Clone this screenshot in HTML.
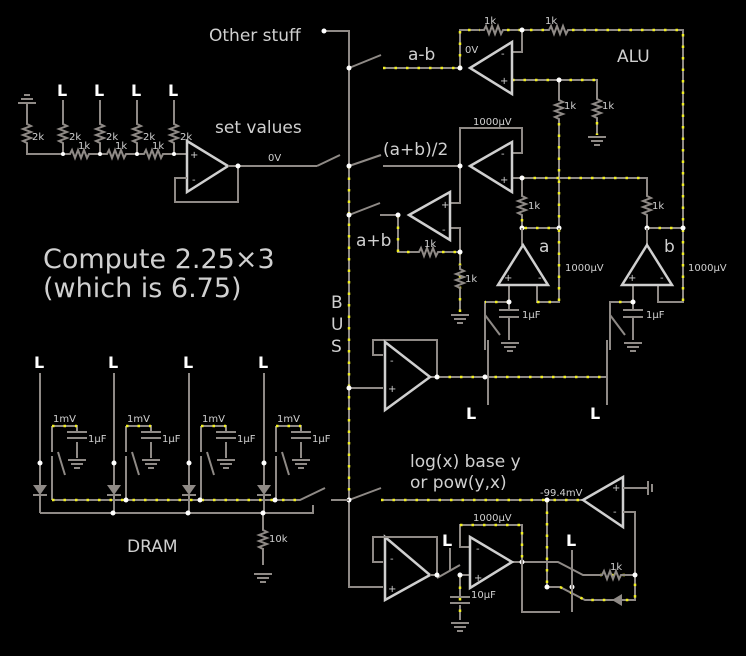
<!DOCTYPE html>
<html><head><meta charset="utf-8"><style>
html,body{margin:0;padding:0;background:#000;}
svg{display:block}
text{font-family:"DejaVu Sans","Liberation Sans",sans-serif;fill:#d0d0d0}
.w{stroke:#8f8a86;stroke-width:2;fill:none}
.y{stroke:#f2f020;stroke-width:2.5;fill:none;stroke-dasharray:2.5 9}
.o{stroke:#cfcfcf;stroke-width:2.5;fill:none}
.d{fill:#fff}
.s{font-size:10px}
.m{font-size:17px}
.L{font-size:16px;font-weight:bold;fill:#fff}
</style></head><body>
<svg width="746" height="656" viewBox="0 0 746 656" xmlns="http://www.w3.org/2000/svg">
<defs>
<polyline id="r" points="0,0 4,0 6,-4 9,4 12,-4 15,4 18,-4 21,4 23,0 27,0" fill="none" stroke="#8f8a86" stroke-width="2"/>
<g id="g"><path d="M-9,0H9M-6,4H6M-3,8H3" stroke="#8f8a86" stroke-width="2"/></g>
</defs>

<!-- BUS -->
<path class="w" d="M324,31H349V587H383"/>
<path class="y" d="M349,166V500"/>
<circle class="d" cx="324" cy="31" r="2.5"/>
<text x="209" y="41" class="m">Other stuff</text>
<text x="331" y="308" class="m">B</text><text x="331" y="330" class="m">U</text><text x="331" y="352" class="m">S</text>

<g class="w">
<path d="M349,68L381,55M383,68H460"/>
<path d="M317,166L340,155M349,166L381,155M383,166H460"/>
<path d="M349,215L380,203M380,215H398"/>
<path d="M349,388H383"/>
<path d="M349,500L381,488M381,500H583"/>
</g>
<path class="y" d="M383,68H460M381,500H583"/>
<g class="d"><circle cx="349" cy="68" r="2.5"/><circle cx="349" cy="166" r="2.5"/><circle cx="349" cy="215" r="2.5"/><circle cx="349" cy="388" r="2.5"/><circle cx="349" cy="500" r="2.5"/></g>
<text x="408" y="60" class="m">a-b</text>
<text x="383" y="155" class="m">(a+b)/2</text>
<text x="356" y="246" class="m">a+b</text>

<!-- ALU top opamp -->
<path class="w" d="M460,68V30H480M507,30H545M572,30H683V302H658V285M512,52H522V30M512,80H597V95M559,80V96M559,123V228H522M597,122V135"/>
<path class="y" d="M460,68V30H480M507,30H545M572,30H683V302M512,80H597M559,123V228M597,122V135"/>
<use href="#r" x="480" y="30"/><use href="#r" x="545" y="30"/>
<use href="#r" transform="translate(559,96) rotate(90)"/>
<use href="#r" transform="translate(597,95) rotate(90)"/>
<use href="#g" x="597" y="137"/>
<path class="o" d="M470,68L512,42V94Z"/>
<text x="501" y="57" class="s">-</text><text x="500" y="84" class="s">+</text>
<circle class="d" cx="460" cy="68" r="2.5"/><circle class="d" cx="522" cy="30" r="2.5"/><circle class="d" cx="559" cy="80" r="2.5"/>
<text x="484" y="24" class="s">1k</text><text x="545" y="24" class="s">1k</text>
<text x="564" y="109" class="s">1k</text><text x="602" y="109" class="s">1k</text>
<text x="465" y="53" class="s">0V</text>
<text x="617" y="62" class="m">ALU</text>

<!-- middle opamp -->
<path class="w" d="M460,166V128H522V153H512M512,178H647V192M522,178V192M522,219V228M647,219V228H683M460,166V203H450"/>
<path class="y" d="M522,178H647M522,219V228H559M647,228H683"/>
<use href="#r" transform="translate(522,192) rotate(90)"/>
<use href="#r" transform="translate(647,192) rotate(90)"/>
<path class="o" d="M470,166L512,142V192Z"/>
<text x="501" y="157" class="s">-</text><text x="500" y="183" class="s">+</text>
<circle class="d" cx="460" cy="166" r="2.5"/><circle class="d" cx="522" cy="178" r="2.5"/><circle class="d" cx="522" cy="228" r="2.5"/><circle class="d" cx="559" cy="228" r="2.5"/><circle class="d" cx="647" cy="228" r="2.5"/><circle class="d" cx="683" cy="228" r="2.5"/>
<text x="473" y="125" class="s">1000µV</text>
<text x="528" y="209" class="s">1k</text><text x="652" y="209" class="s">1k</text>

<!-- a+b opamp -->
<path class="w" d="M398,215V252H415M442,252H460V228H450M460,252V265M460,292V312"/>
<path class="y" d="M398,215V252H415M442,252H460M460,252V312"/>
<use href="#r" x="415" y="252"/>
<use href="#r" transform="translate(460,265) rotate(90)"/>
<use href="#g" x="460" y="315"/>
<path class="o" d="M409,215L450,192V240Z"/>
<text x="441" y="208" class="s">+</text><text x="442" y="233" class="s">-</text>
<circle class="d" cx="398" cy="215" r="2.5"/><circle class="d" cx="460" cy="252" r="2.5"/>
<text x="424" y="247" class="s">1k</text><text x="465" y="282" class="s">1k</text>

<!-- a, b opamps -->
<path class="w" d="M522,228V245M537,285V302H559V228M509,285V302H485V350M509,302V310M509,318V340M488,340V405M485,315L500,335"/>
<path class="w" d="M647,228V245M633,285V302H610V350M633,302V310M633,318V340M607,340V405M610,315L625,335"/>
<path class="y" d="M509,302H485M633,302H610M537,302H559V228"/>
<path class="o" d="M523,245L548,285H498Z"/>
<path class="o" d="M647,245L672,285H622Z"/>
<path class="w" d="M499,310H519M499,317H519M623,310H643M623,317H643"/>
<use href="#g" x="510" y="343"/><use href="#g" x="633" y="343"/>
<text x="504" y="281" class="s">+</text><text x="538" y="281" class="s">-</text>
<text x="628" y="281" class="s">+</text><text x="660" y="281" class="s">-</text>
<circle class="d" cx="509" cy="302" r="2.5"/><circle class="d" cx="633" cy="302" r="2.5"/>
<text x="539" y="252" class="m">a</text><text x="664" y="252" class="m">b</text>
<text x="565" y="271" class="s">1000µV</text><text x="688" y="271" class="s">1000µV</text>
<text x="522" y="318" class="s">1µF</text><text x="646" y="318" class="s">1µF</text>

<!-- buffer opamp -->
<path class="w" d="M383,355H373V340H437V377M430,377H607V355"/>
<path class="y" d="M437,377H607"/>
<path class="o" d="M385,342L430,377L385,410Z"/>
<text x="390" y="364" class="s">-</text><text x="388" y="392" class="s">+</text>
<circle class="d" cx="437" cy="377" r="2.5"/><circle class="d" cx="485" cy="377" r="2.5"/>
<text x="466" y="419" class="L">L</text><text x="590" y="419" class="L">L</text>

<!-- set values -->
<use href="#g" transform="translate(27,103) rotate(180)"/>
<path class="w" d="M27,104V120M27,147V154H67M93,154H104M130,154H141M167,154H187M63,100V120M100,100V120M137,100V120M174,100V120M63,147V154M100,147V154M137,147V154M174,147V154"/>
<use href="#r" transform="translate(27,120) rotate(90)"/>
<use href="#r" transform="translate(63,120) rotate(90)"/>
<use href="#r" transform="translate(100,120) rotate(90)"/>
<use href="#r" transform="translate(137,120) rotate(90)"/>
<use href="#r" transform="translate(174,120) rotate(90)"/>
<use href="#r" x="66" y="154"/><use href="#r" x="103" y="154"/><use href="#r" x="140" y="154"/>
<text x="57" y="96" class="L">L</text><text x="94" y="96" class="L">L</text><text x="131" y="96" class="L">L</text><text x="168" y="96" class="L">L</text>
<text x="32" y="140" class="s">2k</text><text x="69" y="140" class="s">2k</text><text x="106" y="140" class="s">2k</text><text x="143" y="140" class="s">2k</text><text x="180" y="140" class="s">2k</text>
<text x="78" y="149" class="s">1k</text><text x="115" y="149" class="s">1k</text><text x="152" y="149" class="s">1k</text>
<g class="d"><circle cx="63" cy="154" r="2"/><circle cx="100" cy="154" r="2"/><circle cx="137" cy="154" r="2"/><circle cx="174" cy="154" r="2"/></g>
<path class="o" d="M187,141L228,166L187,192Z"/>
<path class="w" d="M187,178H175V202H238V166M228,166H317"/>
<circle class="d" cx="238" cy="166" r="2.5"/>
<text x="190" y="158" class="s">+</text><text x="192" y="183" class="s">-</text>
<text x="268" y="161" class="s">0V</text>
<text x="215" y="133" class="m">set values</text>
<text x="43" y="268" style="font-size:27px">Compute 2.25×3</text>
<text x="43" y="297" style="font-size:27px">(which is 6.75)</text>

<!-- DRAM -->
<g id="cell">
<path class="w" d="M40,373V485M40,495V513M52,456V500M52,426V452M58,452L65,475M52,426H77V432M77,442V458M67,432H87M67,438H87"/>
<path class="y" d="M52,426H77"/>
<path d="M33,485H47L40,495Z" fill="#8f8a86"/><path class="w" d="M33,495H47"/>
<use href="#g" x="77" y="460"/>
<circle class="d" cx="40" cy="463" r="2.5"/>
<text x="34" y="368" class="L">L</text>
<text x="53" y="422" class="s">1mV</text>
<text x="88" y="442" class="s">1µF</text>
</g>
<use href="#cell" x="74"/><use href="#cell" x="149"/><use href="#cell" x="224"/>
<path class="w" d="M52,500H300L325,488M331,500H349M40,513H313V505M263,513V528M263,548V565"/>
<path class="y" d="M52,500H300"/>
<use href="#r" transform="translate(263,526) rotate(90)"/>
<use href="#g" x="263" y="574"/>
<g class="d"><circle cx="113" cy="513" r="2.5"/><circle cx="188" cy="513" r="2.5"/><circle cx="263" cy="513" r="2.5"/><circle cx="126" cy="500" r="2.5"/><circle cx="200" cy="500" r="2.5"/><circle cx="275" cy="500" r="2.5"/></g>
<text x="269" y="542" class="s">10k</text>
<text x="127" y="552" class="m">DRAM</text>

<!-- log -->
<text x="410" y="467" class="m">log(x) base y</text>
<text x="410" y="488" class="m">or pow(y,x)</text>
<text x="540" y="496" class="s">-99.4mV</text>
<path class="o" d="M583,500L623,477V527Z"/>
<text x="612" y="491" class="s">+</text><text x="613" y="515" class="s">-</text>
<path class="w" d="M623,488H648M648,481V495M652,484V492M623,512H635V575M547,500V587H560L585,600H635V575H625M600,575H583L558,562H512"/>
<path class="y" d="M547,500V587M560,587L585,600H635V575M625,575H600"/>
<use href="#r" x="598" y="575"/>
<path d="M622,594V606L612,600Z" fill="#8f8a86"/>
<g class="d"><circle cx="547" cy="500" r="2.5"/><circle cx="547" cy="587" r="2.5"/><circle cx="635" cy="575" r="2.5"/><circle cx="522" cy="562" r="2.5"/><circle cx="572" cy="587" r="2.5"/></g>
<text x="610" y="570" class="s">1k</text>
<path class="w" d="M572,550V612M522,562V612H560M450,548V570"/>
<text x="566" y="546" class="L">L</text><text x="442" y="546" class="L">L</text>

<path class="o" d="M385,537L430,575L385,600Z"/>
<text x="390" y="562" class="s">-</text><text x="388" y="592" class="s">+</text>
<path class="w" d="M383,562H373V537H437V575M430,575H437M437,578L460,565M460,575H470M470,547H460V525H522V562M460,575V597M460,605V620"/>
<path class="y" d="M460,525H522V562M460,575V620"/>
<circle class="d" cx="437" cy="575" r="2.5"/><circle class="d" cx="460" cy="575" r="2.5"/>
<path class="o" d="M470,537L512,562L470,588Z"/>
<text x="476" y="552" class="s">-</text><text x="474" y="581" class="s">+</text>
<path class="w" d="M450,597H470M450,603H470"/>
<use href="#g" x="460" y="623"/>
<text x="473" y="521" class="s">1000µV</text>
<text x="471" y="598" class="s">10µF</text>
</svg>
</body></html>
